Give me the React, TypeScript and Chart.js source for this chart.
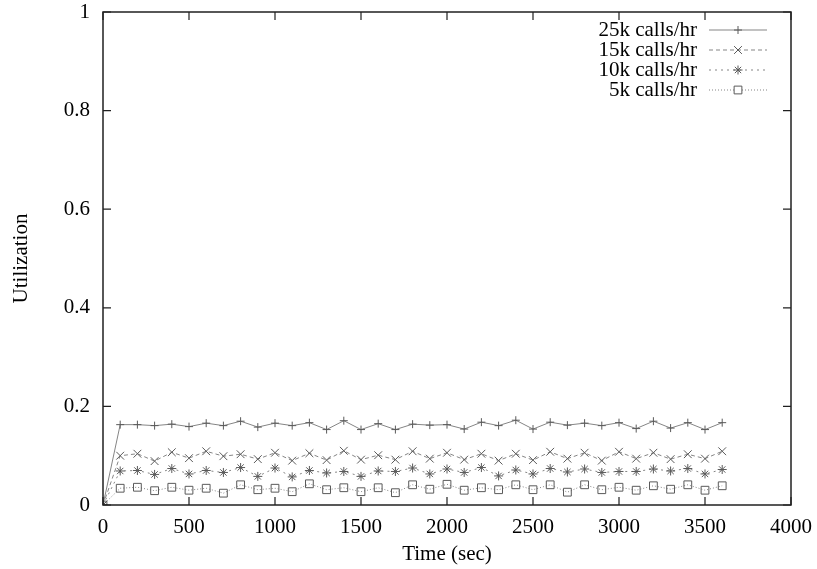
import React, { useEffect, useRef } from "react";
import { Chart, registerables } from "chart.js";
import { drawPoint } from "chart.js/helpers";

Chart.register(...registerables);

const times = [0, 100, 200, 300, 400, 500, 600, 700, 800, 900, 1000, 1100, 1200, 1300, 1400, 1500, 1600, 1700, 1800, 1900, 2000, 2100, 2200, 2300, 2400, 2500, 2600, 2700, 2800, 2900, 3000, 3100, 3200, 3300, 3400, 3500, 3600];

const util25k = [0, 0.163, 0.163, 0.161, 0.164, 0.159, 0.166, 0.161, 0.170, 0.158, 0.166, 0.161, 0.167, 0.153, 0.171, 0.153, 0.165, 0.153, 0.164, 0.162, 0.163, 0.154, 0.168, 0.161, 0.172, 0.154, 0.168, 0.162, 0.166, 0.161, 0.167, 0.155, 0.170, 0.156, 0.167, 0.153, 0.167];
const util15k = [0, 0.100, 0.104, 0.089, 0.107, 0.095, 0.109, 0.099, 0.103, 0.093, 0.106, 0.090, 0.105, 0.091, 0.110, 0.092, 0.101, 0.092, 0.109, 0.094, 0.106, 0.092, 0.104, 0.090, 0.104, 0.091, 0.108, 0.094, 0.106, 0.090, 0.108, 0.094, 0.106, 0.093, 0.103, 0.094, 0.109];
const util10k = [0, 0.069, 0.070, 0.062, 0.074, 0.063, 0.070, 0.066, 0.076, 0.058, 0.075, 0.057, 0.070, 0.065, 0.068, 0.058, 0.069, 0.068, 0.075, 0.063, 0.073, 0.066, 0.076, 0.059, 0.071, 0.063, 0.074, 0.067, 0.073, 0.066, 0.068, 0.068, 0.073, 0.069, 0.074, 0.063, 0.072];
const util5k = [0, 0.034, 0.036, 0.029, 0.036, 0.030, 0.034, 0.024, 0.041, 0.031, 0.034, 0.027, 0.043, 0.031, 0.035, 0.027, 0.035, 0.025, 0.041, 0.032, 0.042, 0.030, 0.035, 0.031, 0.041, 0.031, 0.041, 0.026, 0.041, 0.031, 0.036, 0.030, 0.039, 0.032, 0.041, 0.030, 0.039];

const seriesLabels = ["25k calls/hr", "15k calls/hr", "10k calls/hr", "5k calls/hr"];
const xTitle = "Time (sec)";
const yTitle = "Utilization";

const FONT = "'Liberation Serif', 'Times New Roman', serif";
const FSIZE = 21;

const framePlugin = {
  id: "frame",
  afterDraw(chart: any) {
    const { ctx, chartArea } = chart;
    const { left, right, top, bottom } = chartArea;
    const xs = chart.scales.x;
    const ys = chart.scales.y;
    const tl = 8;
    ctx.save();
    ctx.strokeStyle = "#202020";
    ctx.lineWidth = 1.5;
    ctx.setLineDash([]);
    ctx.strokeRect(left, top, right - left, bottom - top);
    ctx.lineWidth = 1.2;
    ctx.beginPath();
    xs.ticks.forEach((t: any) => {
      const px = xs.getPixelForValue(t.value);
      ctx.moveTo(px, bottom);
      ctx.lineTo(px, bottom - tl);
      ctx.moveTo(px, top);
      ctx.lineTo(px, top + tl);
    });
    ys.ticks.forEach((t: any) => {
      const py = ys.getPixelForValue(t.value);
      ctx.moveTo(left, py);
      ctx.lineTo(left + tl, py);
      ctx.moveTo(right, py);
      ctx.lineTo(right - tl, py);
    });
    ctx.stroke();
    ctx.restore();
  },
};

function drawStyled(ctx: CanvasRenderingContext2D, ds: any, x: number, y: number) {
  ctx.save();
  ctx.setLineDash([]);
  ctx.strokeStyle = ds.pointBorderColor;
  ctx.fillStyle = "rgba(255,255,255,1)";
  ctx.lineWidth = ds.pointBorderWidth;
  drawPoint(ctx, { pointStyle: ds.pointStyle, radius: ds.pointRadius, rotation: 0, borderWidth: ds.pointBorderWidth } as any, x, y);
  ctx.restore();
}

const legendPlugin = {
  id: "gpLegend",
  afterDraw(chart: any) {
    const { ctx, chartArea } = chart;
    const textRight = chartArea.right - 94;
    const lineX0 = chartArea.right - 82;
    const lineX1 = chartArea.right - 24;
    const rowY0 = chartArea.top + 18;
    const rowH = 20;
    ctx.save();
    ctx.font = `${FSIZE}px ${FONT}`;
    ctx.textAlign = "right";
    ctx.textBaseline = "middle";
    chart.data.datasets.forEach((ds: any, i: number) => {
      const y = rowY0 + i * rowH;
      ctx.fillStyle = "#000";
      ctx.fillText(ds.label, textRight, y);
      ctx.strokeStyle = ds.borderColor;
      ctx.lineWidth = ds.borderWidth;
      ctx.setLineDash(ds.borderDash || []);
      ctx.beginPath();
      ctx.moveTo(lineX0, y);
      ctx.lineTo(lineX1, y);
      ctx.stroke();
      drawStyled(ctx, ds, (lineX0 + lineX1) / 2, y);
    });
    ctx.restore();
  },
};

function makeData(values: number[]) {
  return times.map((t, i) => ({ x: t, y: values[i] }));
}

export default function App() {
  const ref = useRef<HTMLCanvasElement | null>(null);
  useEffect(() => {
    if (!ref.current) return;
    const lineColor = "#858585";
    const markColor = "#5a5a5a";
    const common = {
      borderColor: lineColor,
      borderWidth: 1,
      pointBorderColor: markColor,
      pointBackgroundColor: "rgba(0,0,0,0)",
      pointBorderWidth: 1,
      tension: 0,
      fill: false,
    };
    const chart = new Chart(ref.current, {
      type: "line",
      data: {
        datasets: [
          { ...common, label: seriesLabels[0], data: makeData(util25k), pointStyle: "cross", pointRadius: 4, borderDash: [] },
          { ...common, label: seriesLabels[1], data: makeData(util15k), pointStyle: "crossRot", pointRadius: 5.5, borderDash: [4, 3] },
          { ...common, label: seriesLabels[2], data: makeData(util10k), pointStyle: "star", pointRadius: 4.5, borderDash: [2, 4] },
          { ...common, label: seriesLabels[3], data: makeData(util5k), pointStyle: "rect", pointRadius: 5.5, borderDash: [1, 2] },
        ] as any,
      },
      options: {
        animation: false,
        responsive: false,
        devicePixelRatio: 1,
        layout: { padding: { top: 12, right: 26, left: 0, bottom: 0 } },
        plugins: { legend: { display: false }, tooltip: { enabled: false } },
        scales: {
          x: {
            type: "linear",
            min: 0,
            max: 4000,
            afterFit: (s: any) => {
              s.height = 64;
              s.paddingLeft = 0;
              s.paddingRight = 0;
            },
            ticks: {
              stepSize: 500,
              color: "#000",
              font: { family: FONT, size: FSIZE },
              padding: 10,
              maxRotation: 0,
              callback: (v: any) => String(v),
            },
            grid: { display: false, drawTicks: false },
            border: { display: false },
            title: { display: true, text: xTitle, color: "#000", font: { family: FONT, size: FSIZE }, padding: { top: 0, bottom: 2 } },
          },
          y: {
            type: "linear",
            min: 0,
            max: 1,
            afterFit: (s: any) => {
              s.width = 103;
              s.paddingTop = 0;
              s.paddingBottom = 0;
            },
            ticks: {
              stepSize: 0.2,
              color: "#000",
              font: { family: FONT, size: FSIZE },
              padding: 13,
              callback: (v: any) => String(Math.round(Number(v) * 10) / 10),
            },
            grid: { display: false, drawTicks: false },
            border: { display: false },
            title: { display: true, text: yTitle, color: "#000", font: { family: FONT, size: FSIZE }, padding: { top: 9, bottom: 0 } },
          },
        },
      } as any,
      plugins: [framePlugin, legendPlugin],
    });
    return () => chart.destroy();
  }, []);
  return (
    <div style={{ position: "absolute", left: 0, top: 0, width: 817, height: 569, background: "#fff" }}>
      <canvas ref={ref} width={817} height={569} style={{ width: 817, height: 569, display: "block" }} />
    </div>
  );
}
